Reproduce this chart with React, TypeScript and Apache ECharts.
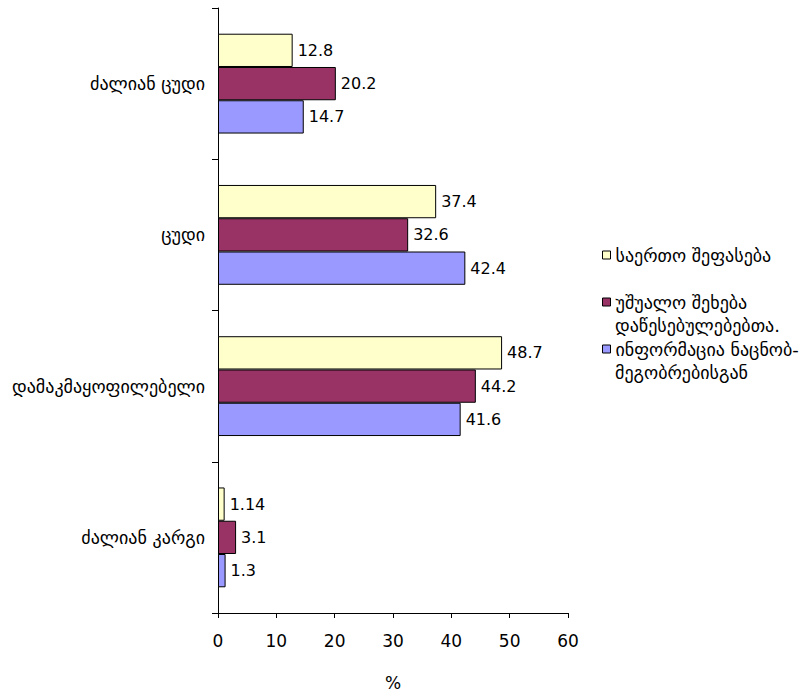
import React, { useEffect, useRef } from "react";
import * as echarts from "echarts";

const categories = ["ძალიან ცუდი", "ცუდი", "დამაკმაყოფილებელი", "ძალიან კარგი"];
const seriesNames = [
  "საერთო შეფასება",
  "უშუალო შეხება\nდაწესებულებებთა.",
  "ინფორმაცია ნაცნობ-\nმეგობრებისგან",
];
const overall = [12.8, 37.4, 48.7, 1.14];
const directContact = [20.2, 32.6, 44.2, 3.1];
const fromFriends = [14.7, 42.4, 41.6, 1.3];
const colors = ["#FFFFCC", "#993366", "#9999FF"];
const xTicks = [0, 10, 20, 30, 40, 50, 60];

const FONT = "'DejaVu Sans', sans-serif";

export default function App() {
  const ref = useRef<HTMLDivElement>(null);
  useEffect(() => {
    if (!ref.current) return;
    const chart = echarts.init(ref.current, undefined, { renderer: "svg" });
    const values = [overall, directContact, fromFriends];
    const legendTops = [245, 292, 339];
    const secondLineY = [0, 325, 372];
    const legends = seriesNames.map((n, i) => ({
      data: [n],
      orient: "vertical",
      left: 602,
      top: legendTops[i],
      padding: 0,
      itemWidth: 8,
      itemHeight: 8,
      icon: "rect",
      selectedMode: false,
      itemStyle: { color: colors[i], borderColor: "#000", borderWidth: 1 },
      formatter: (name: string) => name.split("\n")[0],
      textStyle: { fontFamily: FONT, fontSize: 18, color: "#000", lineHeight: 20 },
    }));
    const graphics = seriesNames
      .map((n, i) => ({ n, i }))
      .filter(({ n }) => n.includes("\n"))
      .map(({ n, i }) => ({
        type: "text",
        left: 615,
        top: secondLineY[i] - 10,
        style: {
          text: n.split("\n")[1],
          fontFamily: FONT,
          fontSize: 18,
          fill: "#000",
          lineHeight: 20,
        },
      }));
    chart.setOption({
      animation: false,
      textStyle: { fontFamily: FONT },
      grid: { left: 218, right: 244, top: 8, bottom: 76, containLabel: false },
      legend: legends,
      graphic: graphics,
      xAxis: {
        type: "value",
        min: 0,
        max: 60,
        interval: 10,
        name: "%",
        nameLocation: "middle",
        nameGap: 61,
        nameTextStyle: { fontFamily: FONT, fontSize: 17, color: "#000" },
        axisLine: { show: true, lineStyle: { color: "#000", width: 1 } },
        axisTick: { show: true, length: 5, lineStyle: { color: "#000" } },
        axisLabel: {
          margin: 19,
          fontFamily: FONT,
          fontSize: 17,
          color: "#000",
          formatter: (v: number) => (xTicks.includes(v) ? String(v) : ""),
        },
        splitLine: { show: false },
      },
      yAxis: {
        type: "category",
        data: categories,
        inverse: true,
        axisLine: { show: true, lineStyle: { color: "#000", width: 1 } },
        axisTick: { show: true, length: 6, lineStyle: { color: "#000" } },
        axisLabel: { margin: 13, fontFamily: FONT, fontSize: 18, color: "#000" },
        splitLine: { show: false },
      },
      series: seriesNames.map((name, i) => ({
        name,
        type: "bar",
        data: values[i],
        barGap: "0%",
        barCategoryGap: "34%",
        itemStyle: { color: colors[i], borderColor: "#000", borderWidth: 1 },
        label: {
          show: true,
          position: "right",
          distance: 5,
          fontFamily: FONT,
          fontSize: 16,
          color: "#000",
        },
      })),
    });
    return () => chart.dispose();
  }, []);
  return (
    <div
      ref={ref}
      style={{ position: "absolute", left: 0, top: 0, width: 812, height: 696 }}
    />
  );
}
